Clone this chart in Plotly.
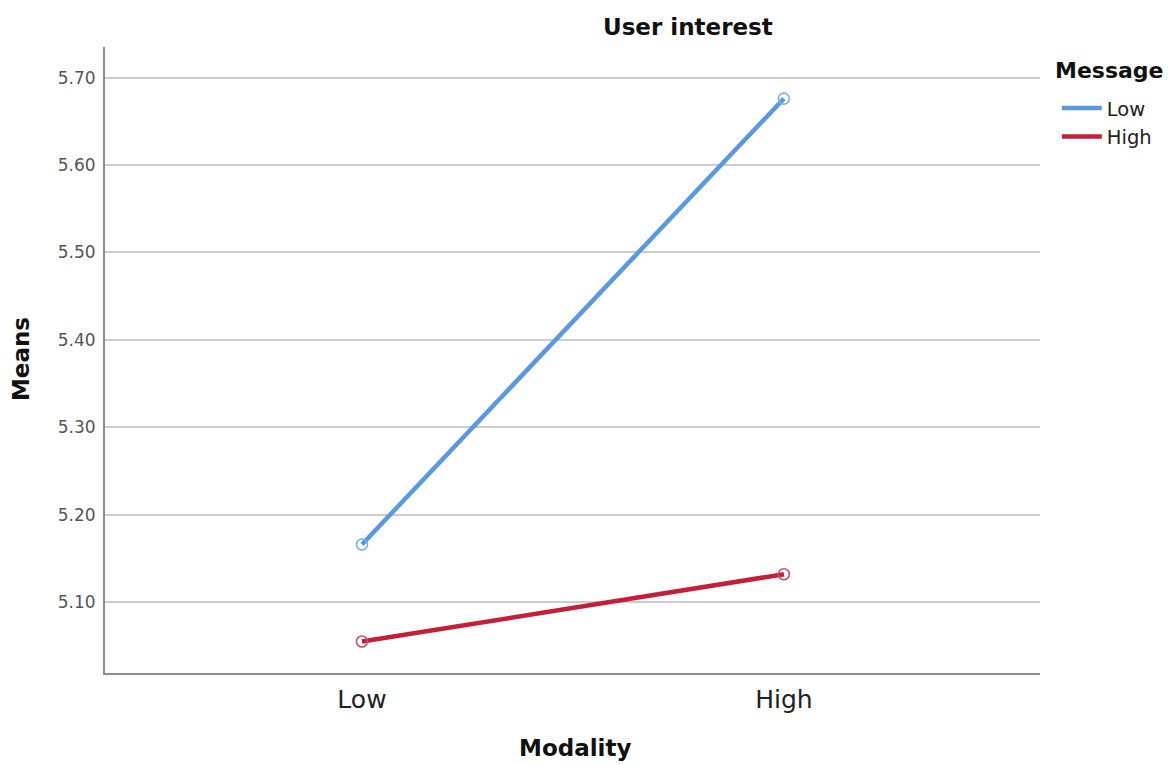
import plotly.graph_objects as go

modality = ["Low", "High"]
message_levels = ["Low", "High"]
means_low_message = [5.166, 5.676]
means_high_message = [5.055, 5.132]
y_ticks = [5.10, 5.20, 5.30, 5.40, 5.50, 5.60, 5.70]
y_tick_labels = ["5.10", "5.20", "5.30", "5.40", "5.50", "5.60", "5.70"]

colors = ["#5B98E1", "#C41E3A"]
marker_colors = ["#7EAEE6", "#C9506A"]
series = [means_low_message, means_high_message]

FONT = "DejaVu Sans"

fig = go.Figure()
for name, vals, c, mc in zip(message_levels, series, colors, marker_colors):
    fig.add_trace(go.Scatter(
        x=modality, y=vals, mode="lines+markers", name=name, showlegend=False,
        line=dict(color=c, width=4.5),
        marker=dict(symbol="circle-open", size=11, color=mc, line=dict(width=1.6, color=mc)),
        hoverinfo="x+y",
    ))
for name, c in zip(message_levels, colors):
    fig.add_trace(go.Scatter(
        x=[None], y=[None], mode="lines", name=name,
        line=dict(color=c, width=4.5),
    ))

fig.update_layout(
    width=1168, height=765,
    margin=dict(l=105, r=128, t=47, b=92, autoexpand=False),
    paper_bgcolor="white", plot_bgcolor="white",
    font=dict(family=FONT, color="#222222"),
    showlegend=True,
    legend=dict(
        x=1.018, xanchor="left", y=0.933, yanchor="top",
        font=dict(size=19.5, family=FONT, color="#222222"),
        itemwidth=40, tracegroupgap=0, bgcolor="rgba(0,0,0,0)",
    ),
    xaxis=dict(
        type="category", range=[-0.609, 1.607],
        showgrid=False, zeroline=False,
        showline=True, linecolor="#8c8c8c", linewidth=2,
        ticks="", tickfont=dict(size=25, family=FONT, color="#222222"),
        ticklabelstandoff=3,
    ),
    yaxis=dict(
        range=[5.019, 5.735],
        tickvals=y_ticks, ticktext=y_tick_labels,
        showgrid=True, gridcolor="#cccccc", gridwidth=2,
        zeroline=False,
        showline=True, linecolor="#8c8c8c", linewidth=2,
        ticks="", tickfont=dict(size=17, family=FONT, color="#555555"),
        ticklabelstandoff=4,
    ),
    annotations=[
        dict(text="<b>User interest</b>", x=0.6235, y=1.032, xref="paper", yref="paper",
             showarrow=False, font=dict(size=23, family=FONT, color="#111111"),
             xanchor="center", yanchor="middle"),
        dict(text="<b>Message</b>", x=1.014, y=0.963, xref="paper", yref="paper",
             showarrow=False, font=dict(size=22, family=FONT, color="#111111"),
             xanchor="left", yanchor="middle"),
        dict(text="<b>Modality</b>", x=0.503, y=-0.1198, xref="paper", yref="paper",
             showarrow=False, font=dict(size=23, family=FONT, color="#111111"),
             xanchor="center", yanchor="middle"),
        dict(text="<b>Means</b>", x=-0.0898, y=0.5016, xref="paper", yref="paper",
             showarrow=False, textangle=-90, font=dict(size=23, family=FONT, color="#111111"),
             xanchor="center", yanchor="middle"),
    ],
)

fig.write_html("out.html", config={"displayModeBar": False},
               post_script="document.body.style.margin='0';document.body.style.overflow='hidden';")
